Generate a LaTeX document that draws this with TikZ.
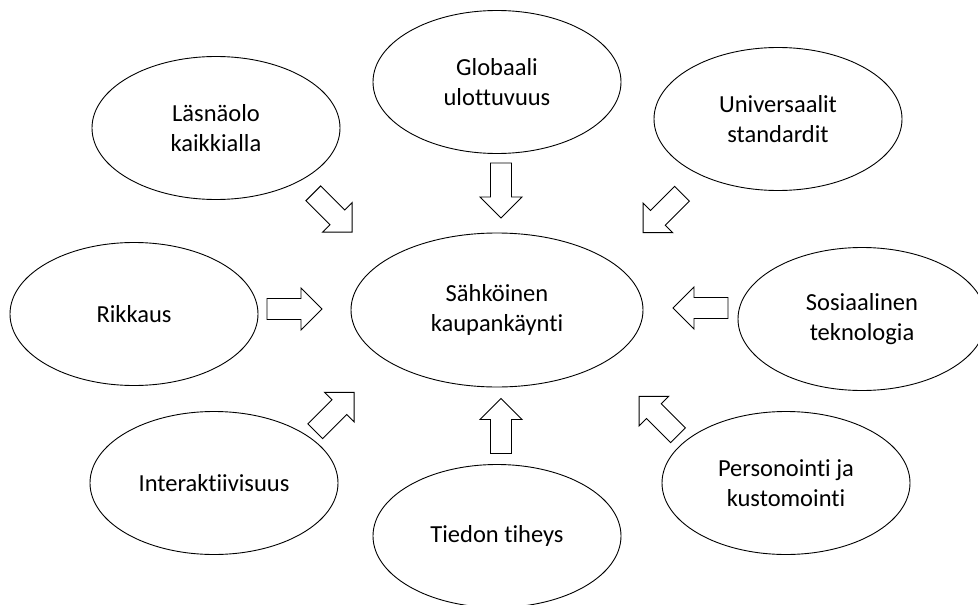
\documentclass[tikz,border=0pt]{standalone}
\usepackage{fontspec}
\setmainfont{Carlito}[Ligatures={NoCommon}]
\usetikzlibrary{shapes.geometric}
\tikzset{
  bubble/.style={draw=black, line width=0.9pt, ellipse, minimum width=248pt, minimum height=143pt,
    inner sep=0pt, align=center, font=\fontsize{24.5}{30}\selectfont, text=black},
  hub/.style={bubble, minimum width=292pt, minimum height=154pt},
  pics/blockarrow/.style={code={
    \draw[line width=0.9pt, fill=white, line join=miter]
      (-27.5,-10.5) -- (6.5,-10.5) -- (6.5,-21) -- (27.5,0) -- (6.5,21) -- (6.5,10.5) -- (-27.5,10.5) -- cycle;
  }}
}
\begin{document}
\begin{tikzpicture}[x=1pt,y=-1pt]
\useasboundingbox (0,0) rectangle (978,605);
\node[hub] (hub) at (497,310) {Sähköinen\\kaupankäynti};
\node[bubble] (glob) at (497,82) {Globaali\\ulottuvuus};
\node[bubble] (lasna) at (216,128) {Läsnäolo\\kaikkialla};
\node[bubble] (univ) at (778,119) {Universaalit\\standardit};
\node[bubble] (rikk) at (134,314) {Rikkaus};
\node[bubble] (sosi) at (862,319) {Sosiaalinen\\teknologia};
\node[bubble] (inter) at (214,483) {Interaktiivisuus};
\node[bubble] (tied) at (497,536) {Tiedon tiheys};
\node[bubble] (pers) at (786,483) {Personointi ja\\kustomointi};
\pic[rotate=-45] at (332.75,212.75) {blockarrow};
\pic[rotate=-90] at (501,190.5) {blockarrow};
\pic[rotate=-135] at (662.5,213.25) {blockarrow};
\pic[rotate=0] at (294.5,309) {blockarrow};
\pic[rotate=180] at (700.5,308) {blockarrow};
\pic[rotate=45] at (334.75,411.75) {blockarrow};
\pic[rotate=90] at (501,426) {blockarrow};
\pic[rotate=135] at (658.5,415.75) {blockarrow};
\end{tikzpicture}
\end{document}
